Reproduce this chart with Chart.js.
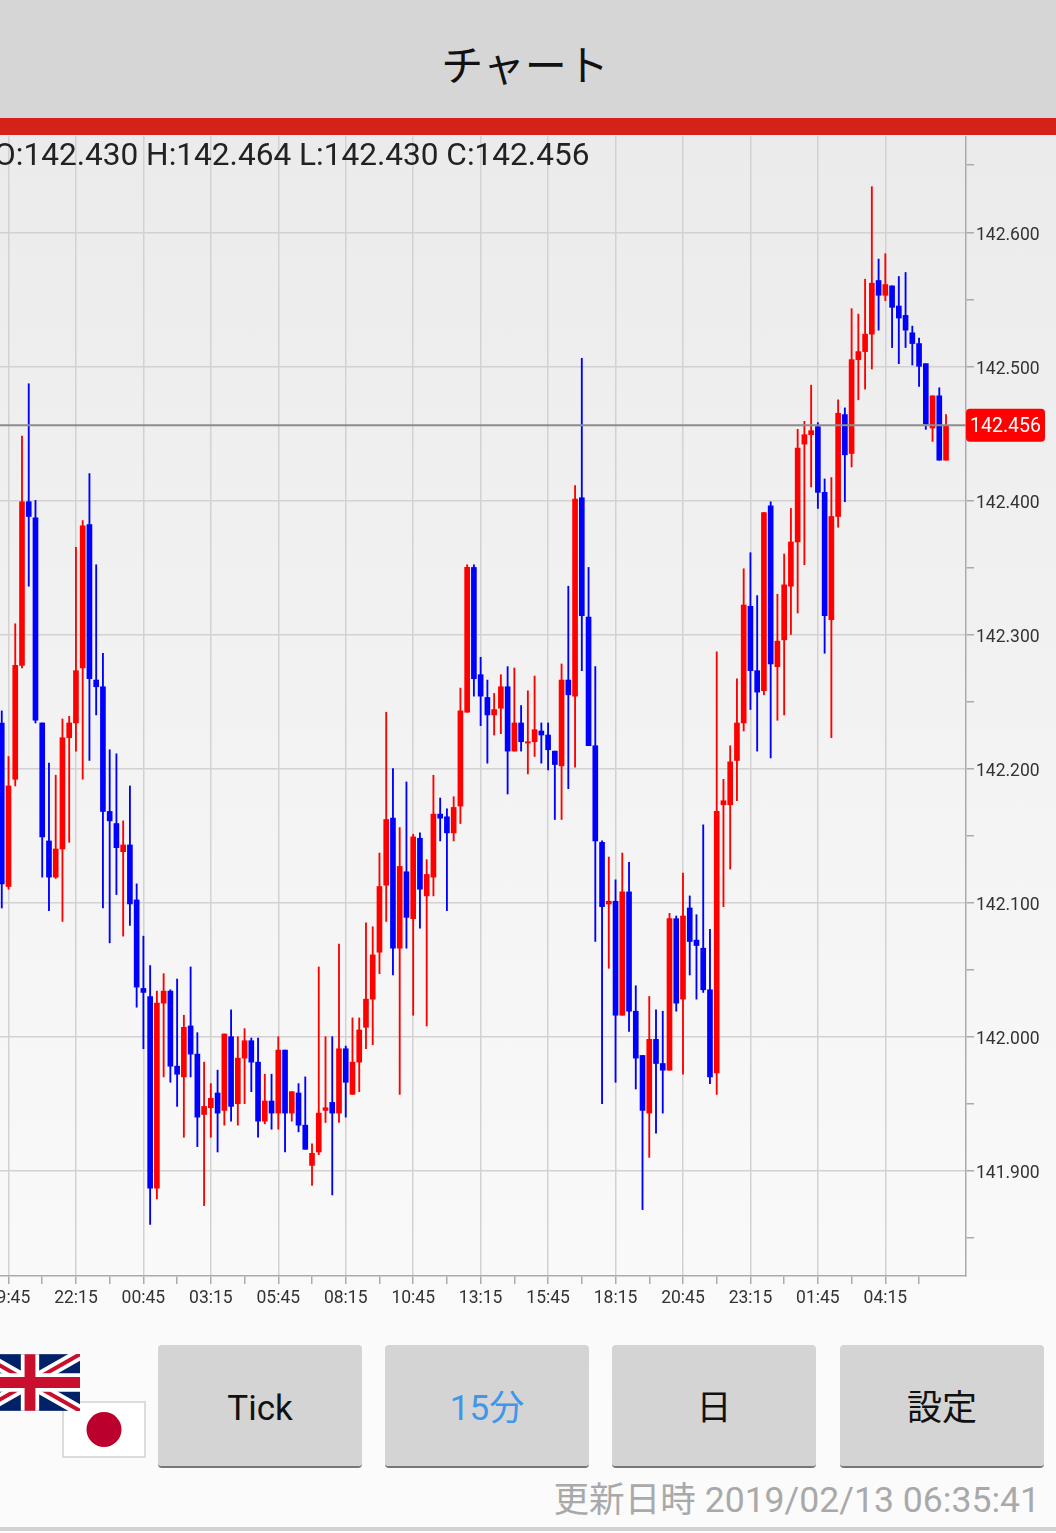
<!DOCTYPE html>
<html lang="ja">
<head>
<meta charset="utf-8">
<title>チャート</title>
<script src="https://cdn.jsdelivr.net/npm/chart.js@4"></script>
<style>
    html, body { margin: 0; padding: 0; }
    body {
        position: relative;
        width: 1056px;
        height: 1533px;
        overflow: hidden;
        background: linear-gradient(#ebebeb 136px, #fbfbfb 1400px);
        font-family: Roboto, "Noto Sans CJK JP", sans-serif;
    }
    .header {
        position: absolute; left: 0; top: 0; width: 1056px; height: 118px;
        background: #d6d6d6;
        border-bottom: 17px solid #d4211a;
        text-align: center;
        font: 42px/125px "Noto Sans CJK JP", sans-serif;
        color: #111;
        text-indent: -6px;
    }
    #chartPrecio { position: absolute; left: 0; top: 136px; }
    .ohlc {
        position: absolute; left: -6px; top: 135px;
        font-size: 31.6px; line-height: 40px; color: #222; white-space: nowrap;
    }
    .boton {
        position: absolute; top: 1345px; width: 204px; height: 121px;
        background: #d4d4d4;
        border-radius: 4px;
        border-bottom: 2px solid #777;
        text-align: center;
        font-size: 35px; line-height: 127px; color: #111;
    }
    .flag { position: absolute; }
    .actualizado {
        position: absolute; right: 16px; top: 1477px;
        font-size: 35.6px; line-height: 46px; color: #a9a9a9; white-space: nowrap;
    }
    .pie { position: absolute; left: 0; top: 1527px; width: 1056px; height: 4px; background: #d2d2d2; }
</style>
</head>
<body>
<div class="header">チャート</div>
<canvas id="chartPrecio" width="1056" height="1176"></canvas>
<div class="ohlc">O:142.430 H:142.464 L:142.430 C:142.456</div>

<svg class="flag" style="left:62px;top:1401px" width="84" height="57">
    <rect x="1" y="1" width="82" height="55" fill="#fff" stroke="#dcdcdc" stroke-width="2"/>
    <circle cx="42" cy="28.5" r="17.5" fill="#bc002d"/>
</svg>
<svg class="flag" style="left:-20px;top:1354px" width="100" height="57" viewBox="0 0 60 34">
    <rect width="60" height="34" fill="#012169"/>
    <path d="M0 0L60 34M60 0L0 34" stroke="#fff" stroke-width="7"/>
    <path d="M0 0L60 34M60 0L0 34" stroke="#c8102e" stroke-width="2.4"/>
    <path d="M30 0V34M0 17H60" stroke="#fff" stroke-width="11"/>
    <path d="M30 0V34M0 17H60" stroke="#c8102e" stroke-width="6.5"/>
</svg>

<div class="boton" style="left:158px">Tick</div>
<div class="boton" style="left:385px;color:#3f96ea">15分</div>
<div class="boton" style="left:612px">日</div>
<div class="boton" style="left:840px">設定</div>
<div class="actualizado">更新日時 2019/02/13 06:35:41</div>
<div class="pie"></div>

<script>
// Velas de 15 minutos. La primera queda cortada por el borde izquierdo
const firstCandle = -1;

const opens = [
    142.234, 142.112, 142.192, 142.277, 142.399, 142.387, 142.234, 142.146, 142.119, 142.140,
    142.223, 142.234, 142.275, 142.382, 142.266, 142.261, 142.168, 142.159, 142.138, 142.143,
    142.102, 142.036, 142.030, 141.887, 142.025, 142.034, 141.978, 141.970, 142.008, 141.987,
    141.942, 141.947, 141.958, 141.945, 142.000, 141.950, 141.984, 141.997, 141.981, 141.937,
    141.952, 141.943, 141.990, 141.943, 141.958, 141.934, 141.904, 141.914, 141.945, 141.951,
    141.943, 141.991, 141.957, 141.981, 142.007, 142.028, 142.063, 142.113, 142.163, 142.066,
    142.123, 142.088, 142.148, 142.105, 142.119, 142.166, 142.164, 142.152, 142.172, 142.242,
    142.350, 142.270, 142.253, 142.240, 142.245, 142.261, 142.213, 142.234, 142.219, 142.220,
    142.228, 142.225, 142.213, 142.202, 142.266, 142.254, 142.402, 142.313, 142.217, 142.145,
    142.099, 142.101, 142.016, 142.108, 142.019, 141.986, 141.943, 141.998, 141.980, 141.975,
    142.088, 142.028, 142.096, 142.072, 142.066, 142.035, 141.973, 142.173, 142.173, 142.206,
    142.234, 142.321, 142.273, 142.258, 142.396, 142.276, 142.296, 142.336, 142.369, 142.442,
    142.449, 142.455, 142.406, 142.311, 142.388, 142.464, 142.435, 142.505, 142.511, 142.524,
    142.564, 142.553, 142.560, 142.545, 142.538, 142.525, 142.517, 142.502, 142.454, 142.478,
    142.430
];
const closes = [
    142.114, 142.187, 142.277, 142.399, 142.388, 142.236, 142.149, 142.119, 142.140, 142.223,
    142.234, 142.273, 142.381, 142.267, 142.261, 142.168, 142.161, 142.141, 142.143, 142.099,
    142.037, 142.033, 141.887, 142.025, 142.034, 141.978, 141.972, 142.007, 141.987, 141.940,
    141.948, 141.954, 141.943, 142.002, 141.948, 141.984, 141.997, 141.981, 141.937, 141.952,
    141.943, 141.990, 141.943, 141.959, 141.934, 141.916, 141.913, 141.943, 141.947, 141.943,
    141.991, 141.966, 141.981, 142.005, 142.028, 142.061, 142.112, 142.162, 142.066, 142.127,
    142.089, 142.149, 142.110, 142.121, 142.166, 142.163, 142.152, 142.171, 142.243, 142.350,
    142.267, 142.254, 142.240, 142.244, 142.261, 142.213, 142.234, 142.220, 142.220, 142.229,
    142.225, 142.214, 142.203, 142.266, 142.255, 142.401, 142.314, 142.217, 142.146, 142.097,
    142.101, 142.016, 142.108, 142.019, 141.984, 141.945, 141.998, 141.980, 141.975, 142.088,
    142.025, 142.090, 142.071, 142.068, 142.035, 141.970, 142.168, 142.176, 142.205, 142.234,
    142.322, 142.273, 142.257, 142.391, 142.278, 142.295, 142.337, 142.369, 142.439, 142.449,
    142.452, 142.406, 142.314, 142.388, 142.465, 142.434, 142.505, 142.511, 142.524, 142.562,
    142.553, 142.561, 142.544, 142.536, 142.527, 142.517, 142.500, 142.457, 142.478, 142.430,
    142.456
];
const highs = [
    142.243, 142.209, 142.308, 142.448, 142.487, 142.400, 142.234, 142.204, 142.195, 142.237,
    142.239, 142.365, 142.385, 142.420, 142.352, 142.286, 142.214, 142.211, 142.161, 142.187,
    142.114, 142.075, 142.053, 142.034, 142.047, 142.035, 142.043, 142.016, 142.052, 142.003,
    141.981, 141.965, 141.975, 142.002, 142.020, 142.000, 142.006, 141.999, 141.999, 141.972,
    141.972, 142.000, 141.990, 141.959, 141.965, 141.970, 141.920, 142.052, 142.000, 142.000,
    142.069, 141.993, 142.014, 142.014, 142.085, 142.082, 142.137, 142.242, 142.200, 142.156,
    142.190, 142.151, 142.152, 142.132, 142.195, 142.178, 142.170, 142.179, 142.260, 142.352,
    142.352, 142.283, 142.266, 142.256, 142.270, 142.276, 142.275, 142.247, 142.258, 142.269,
    142.234, 142.234, 142.213, 142.278, 142.336, 142.411, 142.506, 142.350, 142.276, 142.146,
    142.134, 142.117, 142.137, 142.130, 142.038, 141.986, 142.030, 142.020, 142.019, 142.092,
    142.090, 142.122, 142.105, 142.091, 142.158, 142.080, 142.287, 142.192, 142.217, 142.267,
    142.349, 142.361, 142.329, 142.391, 142.399, 142.330, 142.360, 142.394, 142.453, 142.459,
    142.486, 142.458, 142.416, 142.417, 142.475, 142.469, 142.543, 142.539, 142.565, 142.634,
    142.580, 142.584, 142.560, 142.567, 142.570, 142.530, 142.521, 142.502, 142.478, 142.484,
    142.464
];
const lows = [
    142.096, 142.110, 142.187, 142.275, 142.336, 142.234, 142.119, 142.094, 142.118, 142.086,
    142.145, 142.213, 142.192, 142.206, 142.240, 142.096, 142.070, 142.106, 142.075, 142.083,
    142.022, 141.991, 141.860, 141.879, 141.970, 141.966, 141.948, 141.925, 141.970, 141.918,
    141.874, 141.925, 141.914, 141.934, 141.937, 141.934, 141.950, 141.959, 141.925, 141.935,
    141.931, 141.931, 141.914, 141.937, 141.929, 141.916, 141.889, 141.912, 141.936, 141.882,
    141.936, 141.940, 141.957, 141.959, 141.991, 141.994, 142.047, 142.086, 142.046, 141.957,
    142.066, 142.016, 142.081, 142.008, 142.105, 142.146, 142.094, 142.146, 142.159, 142.242,
    142.254, 142.232, 142.204, 142.225, 142.226, 142.181, 142.213, 142.213, 142.196, 142.209,
    142.204, 142.199, 142.162, 142.162, 142.185, 142.201, 142.273, 142.217, 142.071, 141.950,
    142.051, 141.966, 142.016, 142.004, 141.961, 141.871, 141.910, 141.928, 141.943, 141.975,
    142.019, 141.972, 142.046, 142.028, 142.033, 141.965, 141.957, 142.097, 142.125, 142.176,
    142.228, 142.244, 142.213, 142.255, 142.208, 142.236, 142.240, 142.300, 142.316, 142.352,
    142.410, 142.394, 142.286, 142.223, 142.380, 142.399, 142.425, 142.475, 142.483, 142.498,
    142.527, 142.549, 142.514, 142.502, 142.514, 142.501, 142.485, 142.453, 142.444, 142.430,
    142.430
];

const xTickLabels = [
    '19:45', '22:15', '00:45', '03:15', '05:45', '08:15', '10:45',
    '13:15', '15:45', '18:15', '20:45', '23:15', '01:45', '04:15'
];
const xTickValues = [
    0, 5, 10, 15, 20, 25, 30, 35, 40, 45, 50, 55, 60, 65, 70, 75, 80, 85,
    90, 95, 100, 105, 110, 115, 120, 125, 130, 135
];
const yTickValues = [
    141.85, 141.9, 141.95, 142, 142.05, 142.1, 142.15, 142.2, 142.25,
    142.3, 142.35, 142.4, 142.45, 142.5, 142.55, 142.6, 142.65
];

const lastPrice = closes[closes.length - 1];

const RED = '#ff0000';
const BLUE = '#0000ff';

const candleColors = closes.map((c, i) => (c >= opens[i] ? RED : BLUE));
const wickData = highs.map((h, i) => ({ x: i + firstCandle, y: [lows[i], h] }));
const bodyData = opens.map((o, i) => ({ x: i + firstCandle, y: [o, closes[i]] }));

function isMajorY(value) {
    return Math.abs(value * 10 - Math.round(value * 10)) < 0.001;
}

// Linea del ultimo precio con su etiqueta roja
const lastPricePlugin = {
    id: 'lastPrice',
    afterDatasetsDraw(chart) {
        const { ctx, chartArea, scales } = chart;
        const y = scales.y.getPixelForValue(lastPrice);

        ctx.save();
        ctx.strokeStyle = '#8c8c8c';
        ctx.lineWidth = 2;
        ctx.beginPath();
        ctx.moveTo(chartArea.left, y);
        ctx.lineTo(chartArea.right, y);
        ctx.stroke();

        ctx.fillStyle = RED;
        ctx.beginPath();
        ctx.roundRect(chartArea.right, y - 16.5, 79, 33, 4);
        ctx.fill();

        ctx.fillStyle = '#ffffff';
        ctx.font = '19.5px Roboto';
        ctx.textAlign = 'center';
        ctx.textBaseline = 'middle';
        ctx.fillText(lastPrice.toFixed(3), chartArea.right + 39.5, y + 2);
        ctx.restore();
    }
};

new Chart(document.getElementById('chartPrecio'), {
    type: 'bar',
    data: {
        datasets: [
            {
                data: wickData,
                backgroundColor: candleColors,
                barThickness: 1.2,
                grouped: false,
                order: 2
            },
            {
                data: bodyData,
                backgroundColor: candleColors,
                barThickness: 5,
                grouped: false,
                order: 1
            }
        ]
    },
    plugins: [lastPricePlugin],
    options: {
        responsive: false,
        animation: false,
        layout: { padding: 0 },
        plugins: {
            legend: { display: false },
            tooltip: { enabled: false }
        },
        scales: {
            x: {
                type: 'linear',
                offset: false,
                min: -1.26,
                max: 141.96,
                afterBuildTicks(scale) {
                    scale.ticks = xTickValues.map(value => ({ value }));
                },
                afterFit(scale) {
                    scale.height = 36;
                    scale.paddingLeft = 0;
                    scale.paddingRight = 0;
                },
                border: { color: '#ababab', width: 1.5 },
                grid: {
                    offset: false,
                    color: ctx => (ctx.tick && ctx.tick.value % 10 === 0 ? '#d2d2d2' : 'transparent'),
                    lineWidth: 1.5,
                    tickColor: '#ababab',
                    tickLength: 8
                },
                ticks: {
                    autoSkip: false,
                    maxRotation: 0,
                    minRotation: 0,
                    padding: 4,
                    color: '#333333',
                    font: { family: 'Roboto', size: 17.5 },
                    callback: value => (value % 10 === 0 ? xTickLabels[value / 10] : '')
                }
            },
            y: {
                position: 'right',
                min: 141.8215,
                max: 142.6718,
                afterBuildTicks(scale) {
                    scale.ticks = yTickValues.map(value => ({ value }));
                },
                afterFit(scale) {
                    scale.width = 90;
                    scale.paddingTop = 0;
                    scale.paddingBottom = 0;
                },
                border: { color: '#ababab', width: 1.5 },
                grid: {
                    color: ctx => (ctx.tick && isMajorY(ctx.tick.value) ? '#d2d2d2' : 'transparent'),
                    lineWidth: 1.5,
                    tickColor: '#ababab',
                    tickLength: 8
                },
                ticks: {
                    autoSkip: false,
                    padding: 2,
                    labelOffset: 3,
                    color: '#333333',
                    font: { family: 'Roboto', size: 17.5 },
                    callback: value => (isMajorY(value) ? value.toFixed(3) : '')
                }
            }
        }
    }
});
</script>
</body>
</html>
